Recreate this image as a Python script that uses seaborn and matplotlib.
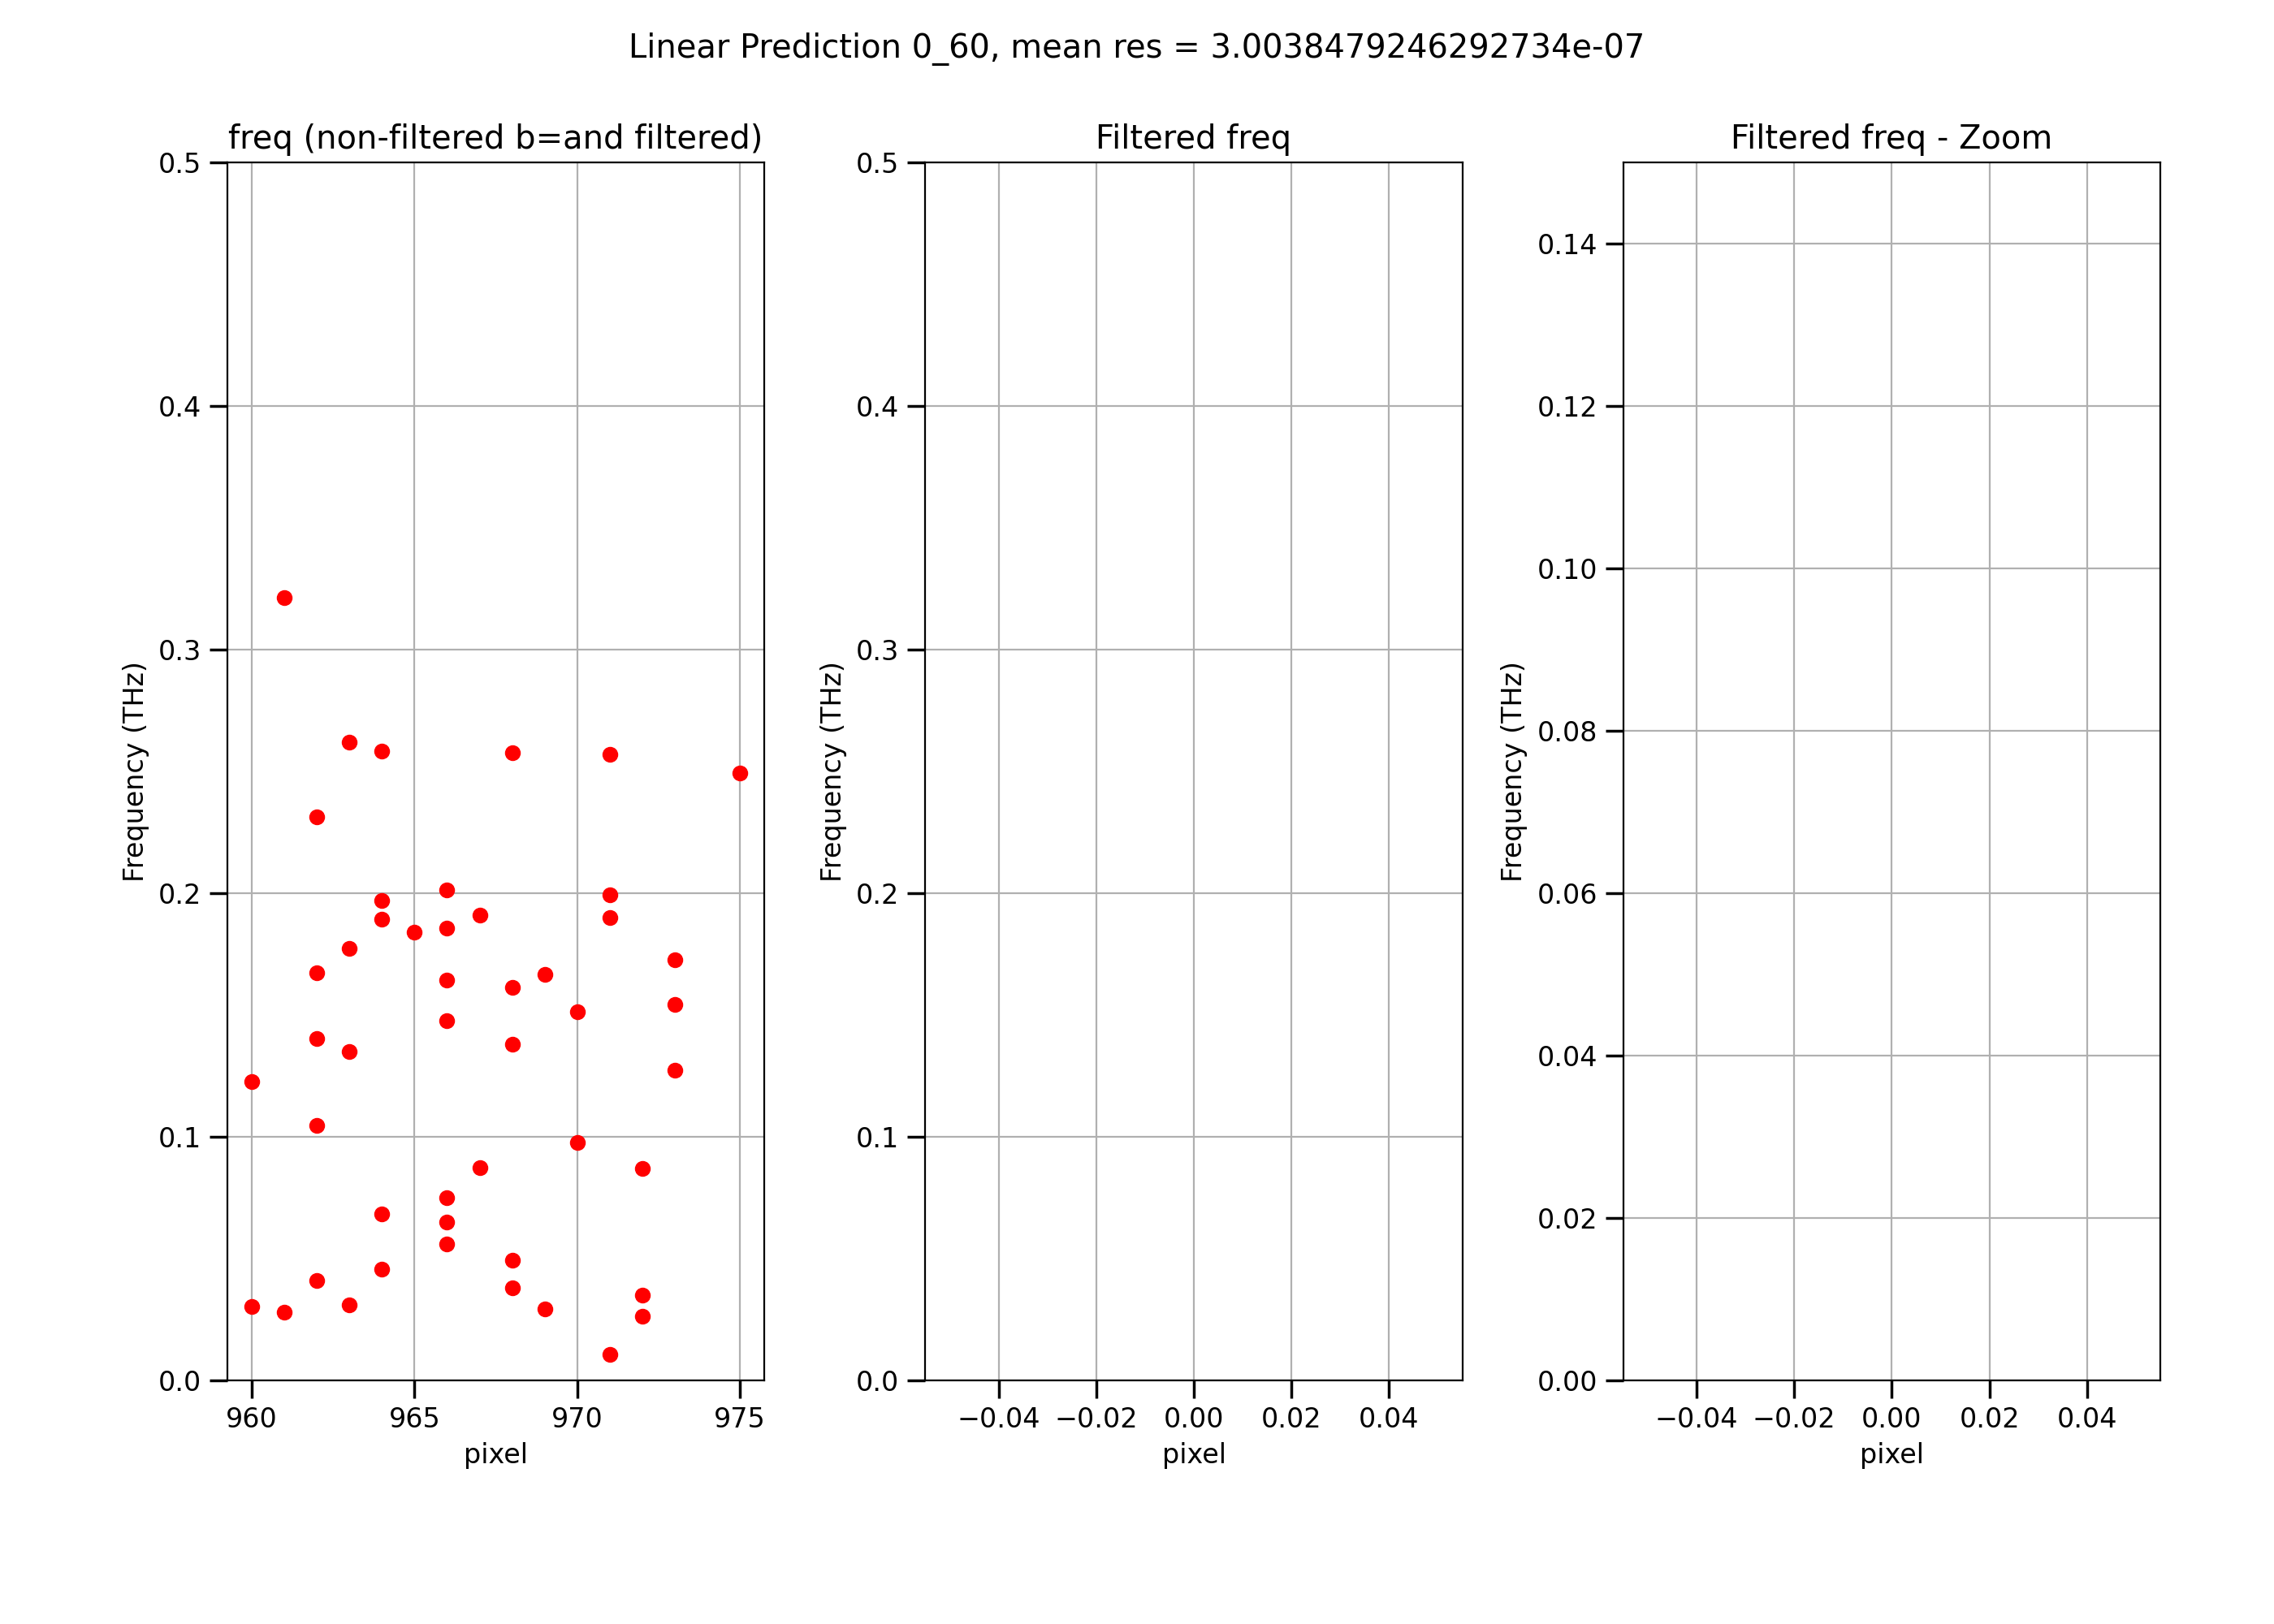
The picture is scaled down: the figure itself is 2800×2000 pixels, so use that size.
import numpy as np
import pandas as pd
import matplotlib
matplotlib.use("Agg")
import matplotlib.pyplot as plt
import seaborn as sns

# Values
pixels = [960, 960, 961, 961,
          962, 962, 962, 962, 962,
          963, 963, 963, 963,
          964, 964, 964, 964, 964,
          965,
          966, 966, 966, 966, 966, 966, 966,
          967, 967,
          968, 968, 968, 968, 968,
          969, 969,
          970, 970,
          971, 971, 971, 971,
          972, 972, 972,
          973, 973, 973,
          975]
freqs = [0.1226, 0.0304, 0.3214, 0.0280,
         0.2315, 0.1673, 0.1405, 0.1048, 0.0411,
         0.2619, 0.1774, 0.1351, 0.0310,
         0.2583, 0.1970, 0.1893, 0.0685, 0.0458,
         0.1839,
         0.2012, 0.1857, 0.1643, 0.1476, 0.0750, 0.0649, 0.0560,
         0.1911, 0.0875,
         0.2577, 0.1613, 0.1381, 0.0494, 0.0381,
         0.1667, 0.0292,
         0.1512, 0.0976,
         0.2571, 0.1994, 0.1899, 0.0107,
         0.0869, 0.0351, 0.0262,
         0.1726, 0.1542, 0.1274,
         0.2494]

# filtered data is empty in this run
filtered_pixels = []
filtered_freqs = []

suptitle = "Linear Prediction 0_60, mean res = 3.0038479246292734e-07"
titles = ["freq (non-filtered b=and filtered)", "Filtered freq", "Filtered freq - Zoom"]

df_all = pd.DataFrame({"pixel": pixels, "freq": freqs})
df_filt = pd.DataFrame({"pixel": pd.Series(filtered_pixels, dtype=float),
                        "freq": pd.Series(filtered_freqs, dtype=float)})

plt.rcParams["font.size"] = 12
plt.rcParams["font.family"] = ["DejaVu Sans"]

fig, axes = plt.subplots(1, 3, figsize=(14, 10), dpi=200)
fig.subplots_adjust(left=0.1, right=0.95, top=0.9, bottom=0.15, wspace=0.3)

# Non-filtered
sns.scatterplot(data=df_all, x="pixel", y="freq", ax=axes[0],
                color="red", s=36, edgecolor="red", linewidth=1, zorder=3)
axes[0].set_ylim(0, 0.5)

# Filtered (empty)
for ax in axes[1:]:
    ax.plot(df_filt["pixel"], df_filt["freq"], "ro")
    ax.set_xlim(-0.055, 0.055)
axes[1].set_ylim(0, 0.5)
axes[2].set_ylim(0, 0.15)
axes[2].set_yticks(np.arange(0, 0.141, 0.02))

for ax, t in zip(axes, titles):
    ax.set_title(t)
    ax.set_xlabel("pixel")
    ax.set_ylabel("Frequency (THz)")
    ax.grid(True)
    ax.set_axisbelow(True)
    ax.tick_params(length=8, width=1.25)

axes[0].set_yticks([0.0, 0.1, 0.2, 0.3, 0.4, 0.5])
axes[1].set_yticks([0.0, 0.1, 0.2, 0.3, 0.4, 0.5])

fig.suptitle(suptitle)
fig.savefig("out.png", dpi=200)
